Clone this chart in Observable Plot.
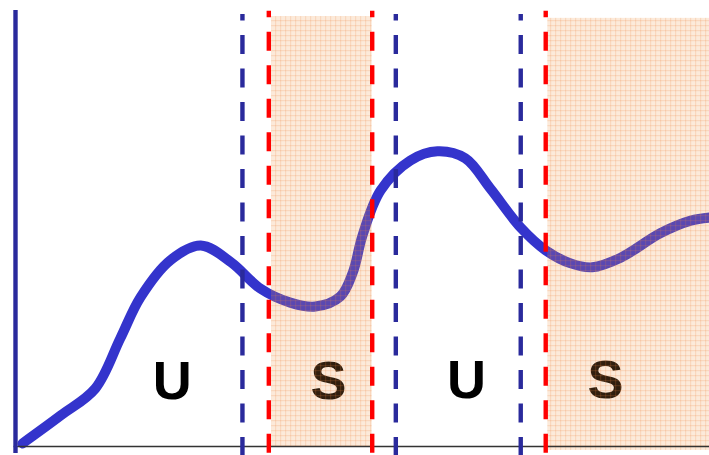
<!DOCTYPE html>
<html>
<head>
<meta charset="utf-8">
<script src="https://cdn.jsdelivr.net/npm/d3@7"></script>
<script src="https://cdn.jsdelivr.net/npm/@observablehq/plot@0.6"></script>
<style>
  html, body { margin: 0; padding: 0; background: #fff; }
  svg { display: block; }
</style>
</head>
<body>
<div id="chart"></div>
<script>
// Curve (x: 0..100, y: 0..100, abstract units)
const curveX = [1.0, 6.5, 11.5, 15.1, 18.0, 22.3, 26.7, 31.1, 35.3, 39.6, 43.2, 46.8, 48.6, 50.0, 52.6, 56.9, 60.8, 64.8, 68.4, 72.8, 76.4, 80.0, 83.1, 87.2, 92.9, 97.3, 100];
const curveY = [0.7, 7.1, 13.3, 24.8, 34.2, 42.7, 46.1, 42.2, 36.2, 33.0, 32.1, 34.4, 39.9, 48.4, 58.7, 65.6, 67.7, 66.1, 59.2, 50.2, 45.0, 42.0, 41.1, 43.3, 48.9, 51.8, 52.5];

// Shaded "S" intervals
const shadeStart = [36.9, 76.7];
const shadeEnd   = [51.4, 100];
const shadeTop   = [98.6, 98.2];
const shadeBottom = [0, -0.9];

// Dashed boundaries
const blueLines = [32.7, 54.8, 72.8];
const redLines  = [36.5, 51.4, 76.4];

// Labels
const labelText = ["U", "S", "U", "S"];
const labelX    = [22.6, 45.1, 65.0, 85.0];
const labelY    = [11.0, 11.0, 11.2, 11.2];

const curve = curveX.map((x, i) => ({x, y: curveY[i]}));
const shades = shadeStart.map((s, i) => ({x1: s, x2: shadeEnd[i], y1: shadeBottom[i], y2: shadeTop[i]}));
const labels = labelText.map((t, i) => ({t, x: labelX[i], y: labelY[i]}));

const chart = Plot.plot({
  width: 709,
  height: 455,
  marginLeft: 15,
  marginRight: 0,
  marginTop: 10,
  marginBottom: 9,
  x: {domain: [0, 100], axis: null},
  y: {domain: [0, 100], axis: null},
  marks: [
    Plot.line(curve, {x: "x", y: "y", stroke: "#3434cc", strokeWidth: 10, curve: "catmull-rom", strokeLinecap: "round", strokeLinejoin: "round"}),
    Plot.text(labels, {x: "x", y: "y", text: "t", fontSize: 54, fontWeight: "bold", fontFamily: "Liberation Sans, Arial, sans-serif", fill: "#000", textAnchor: "middle", lineAnchor: "bottom"}),
    Plot.rect(shades, {x1: "x1", x2: "x2", y1: "y1", y2: "y2", fill: "url(#peachgrid)"}),
    Plot.ruleY([0], {x1: -0.2, x2: 100, stroke: "#333", strokeWidth: 1.5}),
    Plot.ruleX(blueLines, {y1: 99.1, y2: -2.1, stroke: "#2a2a9c", strokeWidth: 4.4, strokeDasharray: "19,14.5", strokeDashoffset: 12.5}),
    Plot.ruleX(redLines, {y1: 99.8, y2: -2.1, stroke: "#ff0000", strokeWidth: 4.4, strokeDasharray: "19,14.5", strokeDashoffset: 12.5}),
    Plot.ruleX([0], {y1: -1.6, y2: 100, stroke: "#2a2a9c", strokeWidth: 4.4})
  ]
});

const ns = "http://www.w3.org/2000/svg";
const defs = document.createElementNS(ns, "defs");
defs.innerHTML = `
  <pattern id="peachgrid" width="5" height="5" patternUnits="userSpaceOnUse">
    <rect width="5" height="5" fill="rgb(242,150,70)" fill-opacity="0.2"></rect>
    <rect x="0" y="0" width="1.2" height="5" fill="rgb(238,130,60)" fill-opacity="0.18"></rect>
    <rect x="0" y="0" width="5" height="1.2" fill="rgb(238,130,60)" fill-opacity="0.18"></rect>
  </pattern>`;
chart.insertBefore(defs, chart.firstChild);
document.getElementById("chart").appendChild(chart);
</script>
</body>
</html>
